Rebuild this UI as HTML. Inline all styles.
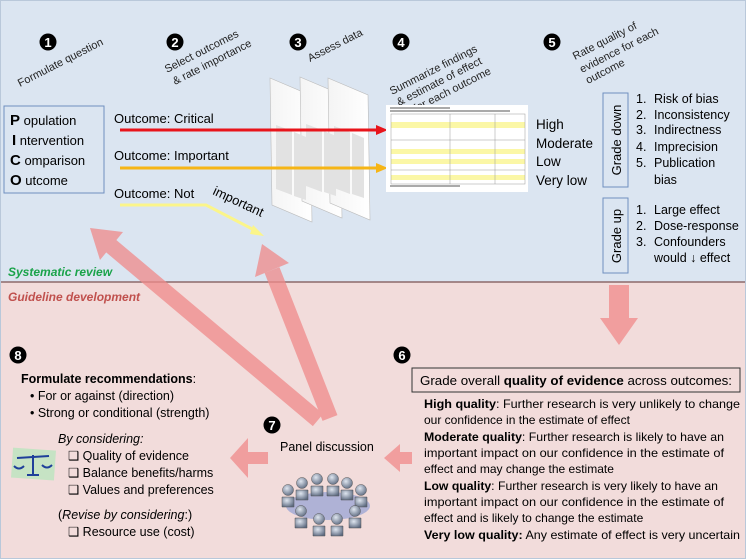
<!DOCTYPE html>
<html><head><meta charset="utf-8"><style>
html,body{margin:0;padding:0;}
body{width:746px;height:559px;overflow:hidden;}
svg{display:block;font-family:"Liberation Sans",sans-serif;}
</style></head><body>
<svg width="746" height="559" viewBox="0 0 746 559" xmlns="http://www.w3.org/2000/svg">
<defs>
<linearGradient id="pg" x1="0" y1="0" x2="1" y2="0"><stop offset="0" stop-color="#f4f4f4"/><stop offset="1" stop-color="#ffffff"/></linearGradient>
<radialGradient id="hd" cx="0.4" cy="0.35" r="0.7"><stop offset="0" stop-color="#dfe6f0"/><stop offset="1" stop-color="#5d6a80"/></radialGradient>
</defs>
<rect x="0" y="0" width="746" height="282" fill="#dbe5f1"/>
<rect x="0" y="282" width="746" height="277" fill="#f2dcdb"/>
<line x1="0" y1="282" x2="746" y2="282" stroke="#8c6a6a" stroke-width="1.5"/>
<rect x="0.5" y="0.5" width="745" height="558" fill="none" stroke="#b9c8da" stroke-width="1"/>

<!-- numbers -->
<g font-weight="bold" fill="#fff">
<circle cx="48" cy="42" r="8.5" fill="#000"/><text x="48" y="47" text-anchor="middle" font-size="13">1</text>
<circle cx="175" cy="42" r="8.5" fill="#000"/><text x="175" y="47" text-anchor="middle" font-size="13">2</text>
<circle cx="298" cy="42" r="8.5" fill="#000"/><text x="298" y="47" text-anchor="middle" font-size="13">3</text>
<circle cx="401" cy="42" r="8.5" fill="#000"/><text x="401" y="47" text-anchor="middle" font-size="13">4</text>
<circle cx="552" cy="42" r="8.5" fill="#000"/><text x="552" y="47" text-anchor="middle" font-size="13">5</text>
<circle cx="402" cy="355" r="8.5" fill="#000"/><text x="402" y="360" text-anchor="middle" font-size="13">6</text>
<circle cx="272" cy="425" r="8.5" fill="#000"/><text x="272" y="430" text-anchor="middle" font-size="13">7</text>
<circle cx="18" cy="355" r="8.5" fill="#000"/><text x="18" y="360" text-anchor="middle" font-size="13">8</text>
</g>

<!-- rotated headings -->
<g font-size="11" fill="#222">
<text transform="translate(20,87) rotate(-27)">Formulate  question</text>
<text transform="translate(167,73) rotate(-27)">Select  outcomes</text>
<text transform="translate(175,85) rotate(-27)">&amp; rate importance</text>
<text transform="translate(310,62) rotate(-27)">Assess data</text>
<text transform="translate(392,95) rotate(-27)">Summarize  findings</text>
<text transform="translate(399,106) rotate(-27)">&amp; estimate of effect</text>
<text transform="translate(416,112) rotate(-27)">for each outcome</text>
<text transform="translate(575,60) rotate(-27)">Rate quality of</text>
<text transform="translate(582,73) rotate(-27)">evidence for each</text>
<text transform="translate(588,84) rotate(-27)">outcome</text>
</g>

<!-- PICO -->
<rect x="4" y="106" width="100" height="87" fill="#dbe5f1" stroke="#6f8fbf" stroke-width="1"/>
<g font-size="13" fill="#000">
<text x="10" y="125"><tspan font-weight="bold" font-size="15">P</tspan> opulation</text>
<text x="12" y="145"><tspan font-weight="bold" font-size="15">I</tspan>  ntervention</text>
<text x="10" y="165"><tspan font-weight="bold" font-size="15">C</tspan> omparison</text>
<text x="10" y="185"><tspan font-weight="bold" font-size="15">O</tspan> utcome</text>
</g>

<g font-size="13" fill="#000">
<text x="114" y="123">Outcome:  Critical</text>
<text x="114" y="160">Outcome:  Important</text>
<text x="114" y="198">Outcome:   Not</text>
<text transform="translate(212,194) rotate(25)">important</text>
</g>

<!-- pages -->
<g>
<polygon points="270,78 310,95 312,222 272,205" fill="url(#pg)" stroke="#bbb" stroke-width="0.6"/>
<polygon points="300,77 340,94 342,218 302,201" fill="url(#pg)" stroke="#bbb" stroke-width="0.6"/>
<polygon points="328,78 368,95 370,220 330,203" fill="url(#pg)" stroke="#bbb" stroke-width="0.6"/>
<g fill="#e2e2e2">
<polygon points="276,125 292,131 292,195 276,189"/><polygon points="294,132 306,137 306,200 294,196"/>
<polygon points="306,124 322,130 322,192 306,186"/><polygon points="324,131 336,136 336,196 324,192"/>
<polygon points="334,126 350,132 350,194 334,188"/><polygon points="352,133 364,138 364,198 352,194"/>
</g>
</g>

<!-- colored lines -->
<line x1="120" y1="130" x2="378" y2="130" stroke="#e8141b" stroke-width="3"/>
<polygon points="376,125 388,130 376,135" fill="#e8141b"/>
<line x1="120" y1="168" x2="378" y2="168" stroke="#f6b516" stroke-width="3"/>
<polygon points="376,163 388,168 376,173" fill="#f6b516"/>
<polyline points="120,205 206,205 256,231" fill="none" stroke="#fbf58a" stroke-width="3"/>
<polygon points="253,225 264,236 250,234" fill="#fbf58a"/>

<!-- table image -->
<rect x="386" y="105" width="142" height="87" fill="#fff"/>
<g fill="#fbf7a6"><rect x="391" y="122" width="134" height="6"/><rect x="391" y="149" width="134" height="5"/><rect x="391" y="159" width="134" height="5"/><rect x="391" y="175" width="134" height="5"/></g>
<g stroke="#999" stroke-width="0.5" fill="none"><rect x="391" y="114" width="134" height="70"/><line x1="391" y1="140" x2="525" y2="140"/><line x1="391" y1="170" x2="525" y2="170"/><line x1="450" y1="114" x2="450" y2="184"/><line x1="495" y1="114" x2="495" y2="184"/></g>
<g fill="#aaa"><rect x="390" y="107" width="60" height="2"/><rect x="390" y="110" width="120" height="2"/><rect x="390" y="185" width="70" height="2"/></g>

<g font-size="13.5" fill="#000">
<text x="536" y="129">High</text>
<text x="536" y="148">Moderate</text>
<text x="536" y="166">Low</text>
<text x="536" y="185">Very low</text>
</g>

<!-- grade boxes -->
<rect x="603" y="93" width="25" height="94" fill="#dbe5f1" stroke="#6f8fbf"/>
<text transform="translate(621,140) rotate(-90)" text-anchor="middle" font-size="13">Grade  down</text>
<rect x="603" y="198" width="25" height="75" fill="#dbe5f1" stroke="#6f8fbf"/>
<text transform="translate(621,236) rotate(-90)" text-anchor="middle" font-size="13">Grade  up</text>
<g font-size="12.5" fill="#000">
<text x="636" y="103">1.</text><text x="654" y="103">Risk of bias</text>
<text x="636" y="119">2.</text><text x="654" y="119">Inconsistency</text>
<text x="636" y="134">3.</text><text x="654" y="134">Indirectness</text>
<text x="636" y="151">4.</text><text x="654" y="151">Imprecision</text>
<text x="636" y="167">5.</text><text x="654" y="167">Publication</text>
<text x="654" y="184">bias</text>
<text x="636" y="214">1.</text><text x="654" y="214">Large effect</text>
<text x="636" y="230">2.</text><text x="654" y="230">Dose-response</text>
<text x="636" y="246">3.</text><text x="654" y="246">Confounders</text>
<text x="654" y="262">would ↓ effect</text>
</g>

<text x="8" y="276" font-size="12" font-style="italic" font-weight="bold" fill="#1aa34a">Systematic review</text>
<text x="8" y="301" font-size="12" font-style="italic" font-weight="bold" fill="#c0504d">Guideline development</text>

<!-- big pink arrows -->
<g opacity="0.75">
<line x1="318" y1="420" x2="111" y2="246" stroke="#f08a8a" stroke-width="16"/>
<polygon points="90,228 123,232 100,260" fill="#f08a8a"/>
<line x1="330" y1="418" x2="272" y2="270" stroke="#f08a8a" stroke-width="16"/>
<polygon points="262,244 289,263 255,277" fill="#f08a8a"/>
<g fill="#f08a8a">
<polygon points="609,285 629,285 629,318 638,318 619,345 600,318 609,318"/>
<polygon points="268,452 268,464 248,464 248,478 230,458 248,438 248,452"/>
<polygon points="412,452 412,464 400,464 400,472 384,458 400,444 400,452"/>
</g>
</g>

<!-- section 6 -->
<rect x="412" y="368" width="328" height="24" fill="#f2dcdb" stroke="#333" stroke-width="1"/>
<text x="420" y="385" font-size="12.5" textLength="312" lengthAdjust="spacingAndGlyphs">Grade overall <tspan font-weight="bold">quality of evidence</tspan> across outcomes:</text>
<g font-size="12" fill="#000">
<text x="424" y="408" textLength="316" lengthAdjust="spacingAndGlyphs"><tspan font-weight="bold">High quality</tspan>: Further research is very unlikely to change</text>
<text x="424" y="424">our confidence in the estimate of effect</text>
<text x="424" y="441" textLength="300" lengthAdjust="spacingAndGlyphs"><tspan font-weight="bold">Moderate quality</tspan>: Further research is likely to have an</text>
<text x="424" y="457" textLength="300" lengthAdjust="spacingAndGlyphs">important impact on our confidence in the estimate of</text>
<text x="424" y="473">effect and may change the estimate</text>
<text x="424" y="490" textLength="294" lengthAdjust="spacingAndGlyphs"><tspan font-weight="bold">Low quality</tspan>: Further research is very likely to have an</text>
<text x="424" y="506" textLength="300" lengthAdjust="spacingAndGlyphs">important impact on our confidence in the estimate of</text>
<text x="424" y="522">effect and is likely to change the estimate</text>
<text x="424" y="539" textLength="316" lengthAdjust="spacingAndGlyphs"><tspan font-weight="bold">Very low quality:</tspan> Any estimate of effect is very uncertain</text>
</g>

<!-- section 8 -->
<g font-size="12.5" fill="#000">
<text x="21" y="383"><tspan font-weight="bold">Formulate  recommendations</tspan>:</text>
<text x="30" y="400">• For or against (direction)</text>
<text x="30" y="417">• Strong or conditional (strength)</text>
<text x="58" y="443" font-style="italic">By considering:</text>
<text x="68" y="460">❑ Quality of evidence</text>
<text x="68" y="477">❑ Balance benefits/harms</text>
<text x="68" y="494">❑ Values and preferences</text>
<text x="58" y="519">(<tspan font-style="italic">Revise by considering</tspan>:)</text>
<text x="68" y="536">❑ Resource use (cost)</text>
</g>

<!-- scales icon -->
<rect x="12" y="449" width="43" height="30" fill="#c6e3c4" transform="rotate(4 33 464)"/>
<g stroke="#1f3f9a" stroke-width="2" fill="none">
<line x1="33" y1="455" x2="33" y2="474"/><line x1="17" y1="458" x2="49" y2="456"/>
<path d="M14,466 Q19,471 24,466"/><path d="M42,465 Q47,470 52,465"/><line x1="27" y1="475" x2="39" y2="475"/>
</g>

<!-- panel -->
<text x="280" y="451" font-size="12.5">Panel discussion</text>
<ellipse cx="328" cy="506" rx="42" ry="14" fill="#9ea8d4" opacity="0.8"/>
<g fill="url(#hd)" stroke="#555" stroke-width="0.5">
<path d="M282,497 h12 v10 h-12z"/><circle cx="288" cy="490" r="5.5"/>
<path d="M296,490 h12 v10 h-12z"/><circle cx="302" cy="483" r="5.5"/>
<path d="M311,486 h12 v10 h-12z"/><circle cx="317" cy="479" r="5.5"/>
<path d="M327,486 h12 v10 h-12z"/><circle cx="333" cy="479" r="5.5"/>
<path d="M341,490 h12 v10 h-12z"/><circle cx="347" cy="483" r="5.5"/>
<path d="M355,497 h12 v10 h-12z"/><circle cx="361" cy="490" r="5.5"/>
<path d="M295,518 h12 v10 h-12z"/><circle cx="301" cy="511" r="5.5"/>
<path d="M313,526 h12 v10 h-12z"/><circle cx="319" cy="519" r="5.5"/>
<path d="M331,526 h12 v10 h-12z"/><circle cx="337" cy="519" r="5.5"/>
<path d="M349,518 h12 v10 h-12z"/><circle cx="355" cy="511" r="5.5"/>
</g>
</svg>
</body></html>
